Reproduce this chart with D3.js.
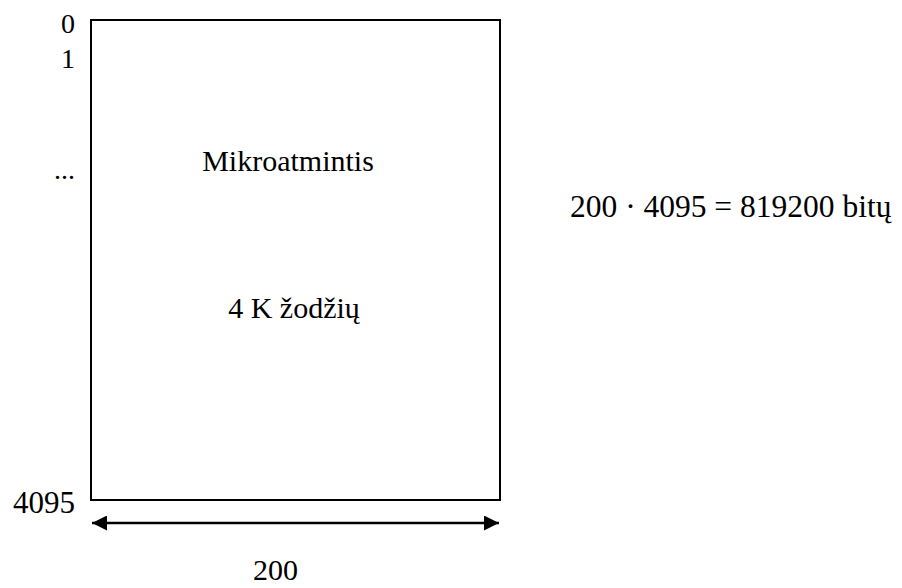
<!DOCTYPE html>
<html>
<head>
<meta charset="utf-8">
<script src="https://cdn.jsdelivr.net/npm/d3@7"></script>
<style>
  html, body { margin: 0; padding: 0; background: #fff; }
  svg { display: block; }
</style>
</head>
<body>
<svg id="chart" width="902" height="588"></svg>
<script>
// ---- data ----
const addressLabels = ["0", "1", "...", "4095"];
const wordCount = 4095;
const wordWidthBits = 200;
const memoryTitle = "Mikroatmintis";
const memoryWords = "4 K žodžių";
const totalBitsLabel = "819200";   // as written in the reference
const formulaText = `${wordWidthBits} · ${wordCount} = ${totalBitsLabel} bitų`;

// ---- pick an installed serif font ----
function pickSerif() {
  const cands = ["Liberation Serif", "Tinos", "Times New Roman", "Noto Serif", "DejaVu Serif", "FreeSerif"];
  const ctx = document.createElement("canvas").getContext("2d");
  const sample = "Mikroatmintis 4095 žodžių WMil";
  ctx.font = "40px monospace";
  const base = ctx.measureText(sample).width;
  for (const c of cands) {
    ctx.font = `40px "${c}", monospace`;
    if (Math.abs(ctx.measureText(sample).width - base) > 0.5) return `"${c}", serif`;
  }
  return "serif";
}
const FONT = pickSerif();

// ---- layout ----
const svg = d3.select("#chart").attr("font-family", FONT).style("font-family", FONT);
const box = { left: 91, right: 500, top: 20, bottom: 500 };

const x = d3.scaleLinear().domain([0, wordWidthBits]).range([box.left, box.right]);
const y = d3.scaleLinear().domain([0, wordCount]).range([box.top, box.bottom]);

// memory block
svg.append("rect")
  .attr("x", x(0)).attr("y", y(0))
  .attr("width", x(wordWidthBits) - x(0))
  .attr("height", y(wordCount) - y(0))
  .attr("fill", "none").attr("stroke", "#000").attr("stroke-width", 2);

// address labels (left side)
const labelBaselines = [33, 68, 179, 513];
const labelSizes = [28, 28, 28, 31];
svg.selectAll("text.addr")
  .data(addressLabels)
  .join("text")
  .attr("class", "addr")
  .style("font-family", FONT)
  .attr("x", 75)
  .attr("y", (d, i) => labelBaselines[i])
  .attr("text-anchor", "end")
  .attr("font-size", (d, i) => labelSizes[i])
  .text(d => d);

// inner texts
svg.append("text")
  .style("font-family", FONT)
  .attr("x", 288).attr("y", 171)
  .attr("text-anchor", "middle").attr("font-size", 30)
  .text(memoryTitle);
svg.append("text")
  .style("font-family", FONT)
  .attr("x", 294).attr("y", 318)
  .attr("text-anchor", "middle").attr("font-size", 30)
  .text(memoryWords);

// formula
svg.append("text")
  .style("font-family", FONT)
  .attr("x", 570).attr("y", 217)
  .attr("font-size", 31.5)
  .text(formulaText);

// double-headed arrow for width
const defs = svg.append("defs");
function marker(id, orient) {
  defs.append("marker")
    .attr("id", id)
    .attr("viewBox", "0 0 15 15")
    .attr("refX", 15).attr("refY", 7.5)
    .attr("markerWidth", 15).attr("markerHeight", 15)
    .attr("markerUnits", "userSpaceOnUse")
    .attr("orient", orient)
    .append("path")
    .attr("d", "M0,0 L15,7.5 L0,15 Z")
    .attr("fill", "#000");
}
marker("arrowEnd", "auto");
marker("arrowStart", "auto-start-reverse");

const arrowY = 523;
svg.append("line")
  .attr("x1", x(0) + 1).attr("x2", x(wordWidthBits) - 1)
  .attr("y1", arrowY).attr("y2", arrowY)
  .attr("stroke", "#000").attr("stroke-width", 2.5)
  .attr("marker-start", "url(#arrowStart)")
  .attr("marker-end", "url(#arrowEnd)");

svg.append("text")
  .style("font-family", FONT)
  .attr("x", x(wordWidthBits / 2) - 20).attr("y", 580)
  .attr("text-anchor", "middle").attr("font-size", 30)
  .text(wordWidthBits);
</script>
</body>
</html>
